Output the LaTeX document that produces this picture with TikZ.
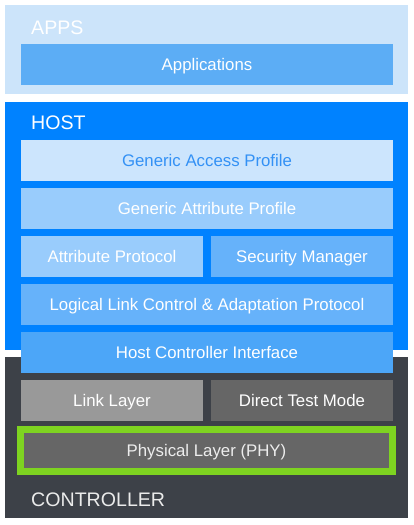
\documentclass[tikz,border=0pt]{standalone}
\usepackage{fontspec}
\setmainfont{Liberation Sans}
\usetikzlibrary{positioning}
\definecolor{appsbg}{HTML}{CCE4FA}
\definecolor{appbar}{HTML}{5CADF5}
\definecolor{hostbg}{HTML}{0082FF}
\definecolor{gapbg}{HTML}{CCE5FD}
\definecolor{gaptext}{HTML}{3391F5}
\definecolor{gattbg}{HTML}{99CCFC}
\definecolor{smbg}{HTML}{66B2FA}
\definecolor{hcibg}{HTML}{4CA6F8}
\definecolor{ctrlbg}{HTML}{3D4148}
\definecolor{llbg}{HTML}{999999}
\definecolor{dtmbg}{HTML}{666666}
\definecolor{phyedge}{HTML}{7ED321}
\tikzset{frame/.style={anchor=north west,minimum width=403pt,inner sep=0pt,outer sep=0pt}}
\tikzset{layer/.style={minimum width=372pt,minimum height=41pt,inner sep=0pt,outer sep=0pt,text=white,text height=12pt,text depth=0pt,font=\fontsize{16.8}{20}\selectfont}}
\tikzset{half/.style={layer,minimum width=182pt}}
\tikzset{phy/.style={layer,draw=phyedge,line width=7pt,fill=dtmbg,minimum height=42pt,text=black!7}}
\tikzset{heading/.style={anchor=base west,inner sep=0pt,text=white,font=\fontsize{19.6}{23}\selectfont}}

\begin{document}
\begin{tikzpicture}[x=1pt,y=1pt,node distance=7pt]
\useasboundingbox (0,0) rectangle (413,525);
\node[frame,fill=appsbg,minimum height=89pt](apps) at (5,520){};
\node[frame,fill=hostbg,minimum height=248pt](host) at (5,423){};
\node[frame,fill=ctrlbg,minimum height=161pt](ctrl) at (5,168){};
\node[heading](appstitle) at (31,490){APPS};
\node[heading](hosttitle) at (31,395){HOST};
\node[heading,text=black!8](ctrltitle) at (31,18){CONTROLLER};
\node[layer,fill=appbar](app) at (207,460){Applications};
\node[layer,fill=gapbg,text=gaptext](gap) at (207,364.5){Generic Access Profile};
\node[layer,fill=gattbg,below=of gap](gatt){Generic Attribute Profile};
\node[half,fill=gattbg,below=of gatt.south west,anchor=north west](att){Attribute Protocol};
\node[half,fill=smbg,right=8pt of att](sm){Security Manager};
\node[layer,fill=smbg,below=of att.south west,anchor=north west](l2cap){Logical Link Control \& Adaptation Protocol};
\node[layer,fill=hcibg,below=of l2cap](hci){Host Controller Interface};
\node[half,fill=llbg,below=of hci.south west,anchor=north west](ll){Link Layer};
\node[half,fill=dtmbg,right=8pt of ll](dtm){Direct Test Mode};
\node[phy](phy) at (206.5,74.5){Physical Layer (PHY)};
\end{tikzpicture}
\end{document}
